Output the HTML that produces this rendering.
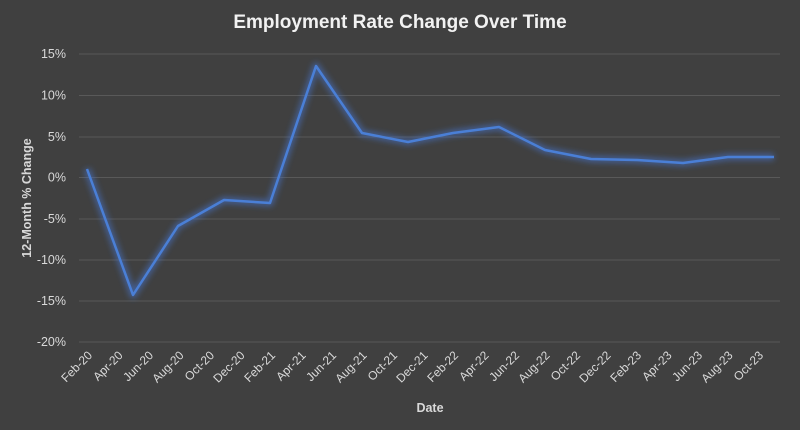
<!DOCTYPE html>
<html><head><style>
body{margin:0;background:#404040;}
svg{display:block;font-family:"Liberation Sans",Arial,sans-serif;}
</style></head><body>
<svg width="800" height="430" viewBox="0 0 800 430">
<defs><filter id="gl" x="-10%" y="-10%" width="120%" height="120%"><feGaussianBlur stdDeviation="3"/></filter></defs>
<rect width="800" height="430" fill="#404040"/>
<text x="400" y="28" text-anchor="middle" fill="#f2f2f2" font-size="19" font-weight="bold">Employment Rate Change Over Time</text>
<g stroke="#595959" stroke-width="1">
<line x1="79" x2="780" y1="54" y2="54"/>
<line x1="79" x2="780" y1="95.5" y2="95.5"/>
<line x1="79" x2="780" y1="137" y2="137"/>
<line x1="79" x2="780" y1="177.5" y2="177.5"/>
<line x1="79" x2="780" y1="219" y2="219"/>
<line x1="79" x2="780" y1="260" y2="260"/>
<line x1="79" x2="780" y1="301" y2="301"/>
<line x1="79" x2="780" y1="342" y2="342"/>
</g>
<g fill="#d9d9d9" font-size="12.5" text-anchor="end">
<text x="66" y="58">15%</text><text x="66" y="99.5">10%</text><text x="66" y="141">5%</text><text x="66" y="181.5">0%</text>
<text x="66" y="223">-5%</text><text x="66" y="264">-10%</text><text x="66" y="305">-15%</text><text x="66" y="346">-20%</text>
</g>
<text transform="translate(31,198) rotate(-90)" text-anchor="middle" fill="#d9d9d9" font-size="12.5" font-weight="bold">12-Month % Change</text>
<text x="430" y="412" text-anchor="middle" fill="#d9d9d9" font-size="12.5" font-weight="bold">Date</text>
<g fill="#d9d9d9" font-size="12" text-anchor="end" id="xl"></g>
<polyline fill="none" stroke="#4472c4" stroke-opacity="0.6" stroke-width="7" stroke-linejoin="round" filter="url(#gl)" points="87,169 133,295 178,226 224,200 270,203 316,66 362,133 408,142 453,133 499,127 545,150 591,159 637,160 683,163 728,157 774,157"/>
<polyline fill="none" stroke="#4a7fd6" stroke-width="2.5" stroke-linejoin="round" points="87,169 133,295 178,226 224,200 270,203 316,66 362,133 408,142 453,133 499,127 545,150 591,159 637,160 683,163 728,157 774,157"/>
</svg>
<script>
var L=["Feb-20","Apr-20","Jun-20","Aug-20","Oct-20","Dec-20","Feb-21","Apr-21","Jun-21","Aug-21","Oct-21","Dec-21","Feb-22","Apr-22","Jun-22","Aug-22","Oct-22","Dec-22","Feb-23","Apr-23","Jun-23","Aug-23","Oct-23"];
var g=document.getElementById('xl'),ns="http://www.w3.org/2000/svg";
for(var i=0;i<L.length;i++){var x=93+i*30.5,y=356;var t=document.createElementNS(ns,'text');t.setAttribute('transform','translate('+x+','+y+') rotate(-45)');t.textContent=L[i];g.appendChild(t);}
</script>
</body></html>
